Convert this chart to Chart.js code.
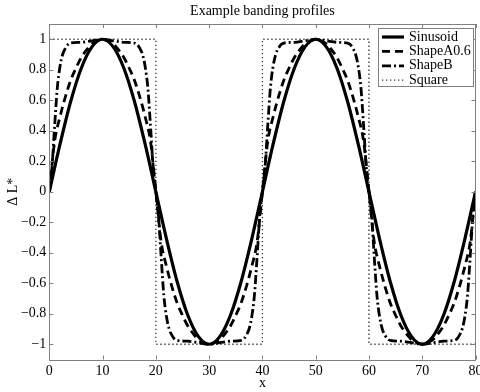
<!DOCTYPE html>
<html lang="en">
<head>
<meta charset="UTF-8">
<title>Example banding profiles</title>
<script src="https://cdn.jsdelivr.net/npm/chart.js"></script>
<style>
  html, body { margin: 0; padding: 0; background: #fff; }
  canvas { display: block; }
</style>
</head>
<body>
<canvas id="myChart" width="480" height="392"></canvas>
<script>
// values
const xSin = [0,2,4,6,8,10,12,14,16,18,20,22,24,26,28,30,32,34,36,38,40,
              42,44,46,48,50,52,54,56,58,60,62,64,66,68,70,72,74,76,78,80];
const ySin = [0,.31,.59,.81,.95,1,.95,.81,.59,.31,0,-.31,-.59,-.81,-.95,-1,-.95,-.81,-.59,-.31,
              0,.31,.59,.81,.95,1,.95,.81,.59,.31,0,-.31,-.59,-.81,-.95,-1,-.95,-.81,-.59,-.31,0];

const xShapeA = [0,1,2,3,4,5,6,7,8,9,10,11,12,13,14,15,16,17,18,19,
                 20,21,22,23,24,25,26,27,28,29,30,31,32,33,34,35,36,37,38,39,
                 40,41,42,43,44,45,46,47,48,49,50,51,52,53,54,55,56,57,58,59,
                 60,61,62,63,64,65,66,67,68,69,70,71,72,73,74,75,76,77,78,79,80];
const yShapeA = [0,.33,.49,.62,.73,.81,.88,.93,.97,.99,1,.99,.97,.93,.88,.81,.73,.62,.49,.33,
                 0,-.33,-.49,-.62,-.73,-.81,-.88,-.93,-.97,-.99,-1,-.99,-.97,-.93,-.88,-.81,-.73,-.62,-.49,-.33,
                 0,.33,.49,.62,.73,.81,.88,.93,.97,.99,1,.99,.97,.93,.88,.81,.73,.62,.49,.33,
                 0,-.33,-.49,-.62,-.73,-.81,-.88,-.93,-.97,-.99,-1,-.99,-.97,-.93,-.88,-.81,-.73,-.62,-.49,-.33,0];

const xShapeB = [0,.5,1,1.5,2,2.5,3,3.5,4,6,8,10,12,14,16,16.5,17,17.5,18,18.5,19,19.5,
                 20,20.5,21,21.5,22,22.5,23,23.5,24,26,28,30,32,34,36,36.5,37,37.5,38,38.5,39,39.5,
                 40,40.5,41,41.5,42,42.5,43,43.5,44,46,48,50,52,54,56,56.5,57,57.5,58,58.5,59,59.5,
                 60,60.5,61,61.5,62,62.5,63,63.5,64,66,68,70,72,74,76,76.5,77,77.5,78,78.5,79,79.5,80];
const yShapeB = [0,.16,.43,.68,.82,.9,.94,.965,.975,.98,.99,1,.99,.98,.975,.965,.94,.9,.82,.68,.43,.16,
                 0,-.16,-.43,-.68,-.82,-.9,-.94,-.965,-.975,-.98,-.99,-1,-.99,-.98,-.975,-.965,-.94,-.9,-.82,-.68,-.43,-.16,
                 0,.16,.43,.68,.82,.9,.94,.965,.975,.98,.99,1,.99,.98,.975,.965,.94,.9,.82,.68,.43,.16,
                 0,-.16,-.43,-.68,-.82,-.9,-.94,-.965,-.975,-.98,-.99,-1,-.99,-.98,-.975,-.965,-.94,-.9,-.82,-.68,-.43,-.16,0];

const xSquare = [0,20,20,40,40,60,60,80];
const ySquare = [1,1,-1,-1,1,1,-1,-1];

const xTicks = [0,10,20,30,40,50,60,70,80];
const yTicks = [-1,-0.8,-0.6,-0.4,-0.2,0,0.2,0.4,0.6,0.8,1];

const FONT = 'Liberation Serif, Times New Roman, serif';
const FRAME = '#808080';

function pts(xs, ys) {
  return xs.map((x, i) => ({ x: x, y: ys[i] }));
}

// box, inward ticks on all four sides, and the legend box
const matlabFrame = {
  id: 'matlabFrame',
  afterDatasetsDraw(chart) {
    const { ctx, chartArea: a, scales: { x, y } } = chart;
    ctx.save();
    ctx.strokeStyle = FRAME;
    ctx.lineWidth = 1;
    ctx.setLineDash([]);
    ctx.beginPath();
    x.ticks.forEach(t => {
      const px = Math.round(x.getPixelForValue(t.value)) + 0.5;
      ctx.moveTo(px, a.bottom); ctx.lineTo(px, a.bottom - 4);
      ctx.moveTo(px, a.top); ctx.lineTo(px, a.top + 4);
    });
    y.ticks.forEach(t => {
      const py = Math.round(y.getPixelForValue(t.value)) + 0.5;
      ctx.moveTo(a.left, py); ctx.lineTo(a.left + 4, py);
      ctx.moveTo(a.right, py); ctx.lineTo(a.right - 4, py);
    });
    ctx.stroke();
    ctx.strokeRect(Math.round(a.left) + 0.5, Math.round(a.top) + 0.5,
                   Math.round(a.right - a.left), Math.round(a.bottom - a.top));

    // legend
    const bx = 378.5, by = 28.5, bw = 95, bh = 58;
    ctx.fillStyle = '#fff';
    ctx.fillRect(bx, by, bw, bh);
    ctx.strokeRect(bx, by, bw, bh);
    ctx.font = '14px ' + FONT;
    ctx.textBaseline = 'middle';
    ctx.textAlign = 'left';
    chart.data.datasets.forEach((ds, i) => {
      const ly = 37 + i * 14.4;
      ctx.strokeStyle = ds.borderColor;
      ctx.lineWidth = ds.borderWidth;
      ctx.setLineDash(ds.borderDash || []);
      ctx.beginPath();
      ctx.moveTo(382, ly); ctx.lineTo(404, ly);
      ctx.stroke();
      ctx.fillStyle = '#000';
      ctx.fillText(ds.label, 409, ly);
    });
    ctx.restore();
  }
};

const ctx = document.getElementById('myChart').getContext('2d');
const myChart = new Chart(ctx, {
  type: 'line',
  data: {
    datasets: [
      { label: 'Sinusoid', data: pts(xSin, ySin), borderColor: '#000', borderWidth: 3.2,
        cubicInterpolationMode: 'monotone', pointRadius: 0 },
      { label: 'ShapeA0.6', data: pts(xShapeA, yShapeA), borderColor: '#000', borderWidth: 2.8,
        borderDash: [8, 5], cubicInterpolationMode: 'monotone', pointRadius: 0 },
      { label: 'ShapeB', data: pts(xShapeB, yShapeB), borderColor: '#000', borderWidth: 2.8,
        borderDash: [9, 3, 2, 3], cubicInterpolationMode: 'monotone', pointRadius: 0 },
      { label: 'Square', data: pts(xSquare, ySquare), borderColor: '#333', borderWidth: 1.3,
        borderDash: [1.3, 2.7], tension: 0, pointRadius: 0 }
    ]
  },
  options: {
    responsive: false,
    animation: false,
    events: [],
    layout: { padding: { left: 0, right: 4.5, top: 0, bottom: 0 } },
    scales: {
      x: {
        type: 'linear', min: 0, max: 80,
        grid: { display: false, drawTicks: false },
        border: { display: false },
        afterBuildTicks: s => { s.ticks = xTicks.map(v => ({ value: v })); },
        ticks: { padding: 3, color: '#000', maxRotation: 0, font: { family: FONT, size: 14 } },
        title: { display: true, text: 'x', color: '#000', padding: { top: 0, bottom: 0 },
                 font: { family: FONT, size: 14 } },
        afterFit: s => { s.height = 32.5; s.paddingLeft = 0; s.paddingRight = 0; }
      },
      y: {
        type: 'linear', min: -1.1, max: 1.1,
        grid: { display: false, drawTicks: false },
        border: { display: false },
        afterBuildTicks: s => { s.ticks = yTicks.map(v => ({ value: v })); },
        ticks: {
          padding: 3, color: '#000', font: { family: FONT, size: 14 },
          callback: v => String(Math.round(v * 10) / 10).replace('-', '\u2212')
        },
        title: { display: true, text: '\u0394 L*', color: '#000', padding: { top: 4.5, bottom: 0 },
                 font: { family: FONT, size: 14 } },
        afterFit: s => { s.width = 49.3; }
      }
    },
    plugins: {
      legend: { display: false },
      tooltip: { enabled: false },
      title: {
        display: true, fullSize: false,
        text: 'Example banding profiles', color: '#000',
        font: { family: FONT, size: 14, weight: 'normal' },
        padding: { top: 3, bottom: 4.2 }
      }
    }
  },
  plugins: [matlabFrame]
});
</script>
</body>
</html>
